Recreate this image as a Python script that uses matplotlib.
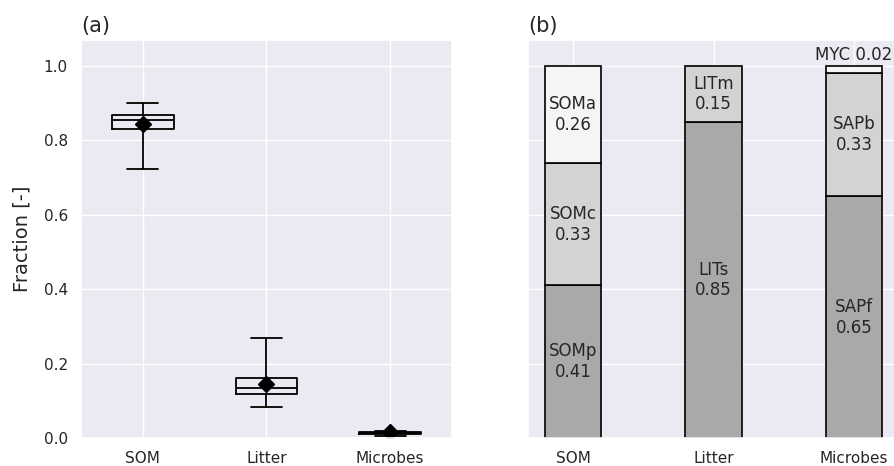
import matplotlib
matplotlib.use("Agg")
import matplotlib.pyplot as plt
import seaborn as sns

sns.set_theme(style="darkgrid")
plt.rcParams["font.family"] = ["DejaVu Sans"]

# (a) box plot summary stats
groups = ["SOM", "Litter", "Microbes"]
whislo = [0.724, 0.084, 0.006]
q1 = [0.832, 0.117, 0.010]
med = [0.855, 0.134, 0.013]
q3 = [0.869, 0.160, 0.016]
whishi = [0.901, 0.268, 0.019]
means = [0.843, 0.145, 0.015]

# (b) stacked fractions, bottom to top
pool_names = [["SOMp", "SOMc", "SOMa"], ["LITs", "LITm"], ["SAPf", "SAPb", "MYC"]]
pool_fracs = [[0.41, 0.33, 0.26], [0.85, 0.15], [0.65, 0.33, 0.02]]
shades = ["darkgray", "lightgray", "whitesmoke"]

fig = plt.figure(figsize=(8.95, 4.66), dpi=100)
ax1 = fig.add_axes([81 / 895, 28 / 466, 371 / 895, 398 / 466])
ax2 = fig.add_axes([528 / 895, 28 / 466, 371 / 895, 398 / 466], sharey=ax1)

stats = []
for i, g in enumerate(groups):
    stats.append(dict(label=g, whislo=whislo[i], q1=q1[i], med=med[i],
                      q3=q3[i], whishi=whishi[i], mean=means[i], fliers=[]))
ax1.bxp(stats, positions=range(len(groups)), widths=0.5, showmeans=True,
        boxprops=dict(color="black", linewidth=1.3),
        medianprops=dict(color="black", linewidth=1.3),
        whiskerprops=dict(color="black", linewidth=1.3),
        capprops=dict(color="black", linewidth=1.3),
        meanprops=dict(marker="D", markerfacecolor="black",
                       markeredgecolor="black", markersize=8))
ax1.set_xlim(-0.5, 2.5)
ax1.set_ylim(0, 1.07)
ax1.set_ylabel("Fraction [-]", fontsize=14, labelpad=9)
ax1.set_title("(a)", loc="left", fontsize=15)
ax1.tick_params(labelsize=11)

for i, (names, fracs) in enumerate(zip(pool_names, pool_fracs)):
    bottom = 0
    for j, (n, f) in enumerate(zip(names, fracs)):
        ax2.bar(i, f, bottom=bottom, width=0.4, color=shades[j],
                edgecolor="black", linewidth=1.2, zorder=2)
        if f < 0.05:
            ax2.text(i, bottom + f + 0.005, f"{n} {f:.2f}", ha="center",
                     va="bottom", fontsize=12, color="#262626")
        else:
            ax2.text(i, bottom + f / 2, f"{n}\n{f:.2f}", ha="center",
                     va="center", fontsize=12, color="#262626")
        bottom += f
ax2.set_xticks(range(len(groups)))
ax2.set_xticklabels(groups)
ax2.set_xlim(-0.32, 2.32)
ax2.tick_params(labelleft=False, labelsize=11)
ax2.set_title("(b)", loc="left", fontsize=15)

fig.savefig("out.png", dpi=100)
